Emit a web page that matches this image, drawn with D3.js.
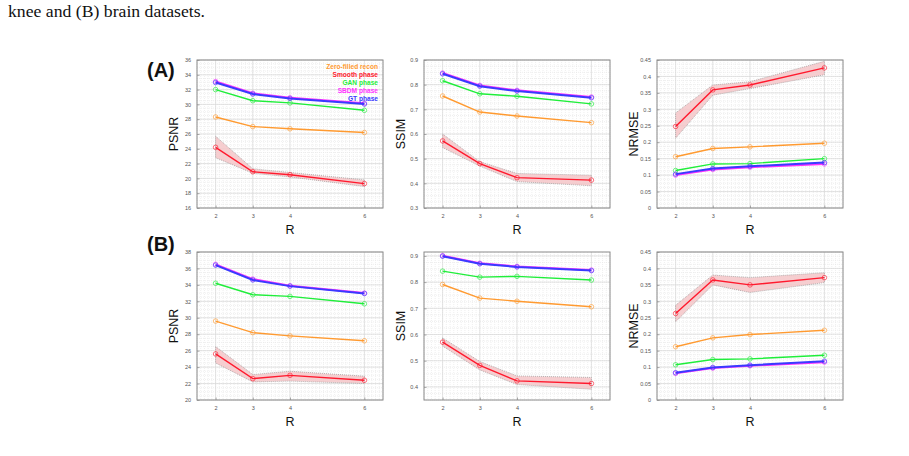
<!DOCTYPE html>
<html lang="en">
<head>
<meta charset="UTF-8">
<title>Metrics vs R</title>
<script src="https://d3js.org/d3.v7.min.js"></script>
<style>
  html, body { margin: 0; background: #fff; }
  #vis { width: 909px; height: 456px; }
  .caption { font-family: "Liberation Serif", "Times New Roman", serif; font-size: 16px; fill: #111; }
  .tick text { font-family: "Liberation Sans", Arial, sans-serif; font-size: 5.5px; fill: #555; }
  .lbl { font-family: "Liberation Sans", Arial, sans-serif; font-size: 12.5px; fill: #111; }
  .panel { font-family: "Liberation Sans", Arial, sans-serif; font-size: 20px; font-weight: bold; fill: #111; }
  .leg { font-family: "Liberation Sans", Arial, sans-serif; font-size: 6.6px; font-weight: bold; }
</style>
</head>
<body>
<div id="vis"></div>
<script>
// acceleration factors
var R = [2, 3, 4, 6];

var seriesNames = ['Zero-filled recon', 'Smooth phase', 'GAN phase', 'SBDM phase', 'GT phase'];
var seriesColors = ['#ff9a30', '#ff1a2e', '#1fee3a', '#ff33ff', '#3a3aff'];

// (A) knee: [zero-filled, smooth, gan, sbdm, gt]
var kneePSNR = [
  [28.3, 27.0, 26.7, 26.2],
  [24.2, 20.9, 20.5, 19.3],
  [32.0, 30.5, 30.2, 29.2],
  [33.1, 31.5, 30.9, 30.15],
  [32.95, 31.4, 30.8, 30.05]
];
var kneePSNRband = [[22.8, 20.7, 20.2, 18.9], [25.7, 21.3, 20.8, 19.8]];

var kneeSSIM = [
  [0.754, 0.689, 0.673, 0.646],
  [0.572, 0.480, 0.423, 0.413],
  [0.816, 0.763, 0.753, 0.722],
  [0.847, 0.797, 0.777, 0.750],
  [0.844, 0.794, 0.774, 0.747]
];
var kneeSSIMband = [[0.545, 0.470, 0.407, 0.390], [0.600, 0.488, 0.440, 0.433]];

var kneeNRMSE = [
  [0.156, 0.181, 0.186, 0.197],
  [0.248, 0.359, 0.374, 0.426],
  [0.114, 0.134, 0.135, 0.150],
  [0.100, 0.117, 0.124, 0.134],
  [0.103, 0.120, 0.127, 0.138]
];
var kneeNRMSEband = [[0.212, 0.343, 0.363, 0.405], [0.289, 0.374, 0.384, 0.446]];

// (B) brain
var brainPSNR = [
  [29.6, 28.2, 27.8, 27.2],
  [25.6, 22.6, 23.0, 22.4],
  [34.2, 32.8, 32.6, 31.7],
  [36.5, 34.7, 33.9, 33.0],
  [36.4, 34.6, 33.85, 32.95]
];
var brainPSNRband = [[24.5, 22.2, 22.3, 22.0], [26.5, 23.1, 23.5, 22.9]];

var brainSSIM = [
  [0.791, 0.739, 0.727, 0.706],
  [0.571, 0.482, 0.423, 0.413],
  [0.842, 0.819, 0.822, 0.808],
  [0.901, 0.872, 0.860, 0.846],
  [0.899, 0.870, 0.858, 0.844]
];
var brainSSIMband = [[0.556, 0.465, 0.409, 0.391], [0.587, 0.497, 0.442, 0.436]];

var brainNRMSE = [
  [0.162, 0.189, 0.199, 0.212],
  [0.263, 0.365, 0.350, 0.372],
  [0.107, 0.123, 0.125, 0.136],
  [0.081, 0.097, 0.104, 0.115],
  [0.083, 0.099, 0.106, 0.118]
];
var brainNRMSEband = [[0.238, 0.350, 0.327, 0.357], [0.288, 0.380, 0.372, 0.387]];

var W = 909, H = 456;
var svg = d3.select('#vis').append('svg').attr('width', W).attr('height', H);

svg.append('text').attr('class', 'caption').attr('x', 8).attr('y', 17)
  .attr('textLength', 197).attr('lengthAdjust', 'spacingAndGlyphs')
  .text('knee and (B) brain datasets.');

var colX = [197, 424, 657];
var rowY = [60, 252];
var boxW = 186, boxH = 148;

var panels = [
  {row: 0, col: 0, label: 'PSNR', data: kneePSNR, band: kneePSNRband, ydom: [16, 36], ticks: d3.range(16, 36.1, 2), minor: 0.5, legend: true},
  {row: 0, col: 1, label: 'SSIM', data: kneeSSIM, band: kneeSSIMband, ydom: [0.3, 0.9], ticks: d3.range(0.3, 0.91, 0.1), minor: 0.025},
  {row: 0, col: 2, label: 'NRMSE', data: kneeNRMSE, band: kneeNRMSEband, ydom: [0, 0.45], ticks: d3.range(0, 0.451, 0.05), minor: 0.0125},
  {row: 1, col: 0, label: 'PSNR', data: brainPSNR, band: brainPSNRband, ydom: [20, 38], ticks: d3.range(20, 38.1, 2), minor: 0.5},
  {row: 1, col: 1, label: 'SSIM', data: brainSSIM, band: brainSSIMband, ydom: [0.35, 0.915], ticks: d3.range(0.4, 0.91, 0.1), minor: 0.025},
  {row: 1, col: 2, label: 'NRMSE', data: brainNRMSE, band: brainNRMSEband, ydom: [0, 0.45], ticks: d3.range(0, 0.451, 0.05), minor: 0.0125}
];

var fmt = function(d) { return +d.toFixed(2) + ''; };

panels.forEach(function(p) {
  var g = svg.append('g')
    .attr('transform', 'translate(' + colX[p.col] + ',' + rowY[p.row] + ')');

  var x = d3.scaleLinear().domain([1.5, 6.5]).range([0, boxW]);
  var y = d3.scaleLinear().domain(p.ydom).range([boxH, 0]);

  // minor grid
  var minorY = d3.range(Math.ceil(p.ydom[0] / p.minor) * p.minor, p.ydom[1] + 1e-9, p.minor);
  var minorX = d3.range(1.5, 6.5001, 0.1);
  g.append('g').selectAll('line.my').data(minorY).enter().append('line')
    .attr('x1', 0).attr('x2', boxW)
    .attr('y1', function(d) { return y(d); }).attr('y2', function(d) { return y(d); })
    .attr('stroke', '#e4e4e4').attr('stroke-width', 0.6).attr('stroke-dasharray', '1,1');
  g.append('g').selectAll('line.mx').data(minorX).enter().append('line')
    .attr('y1', 0).attr('y2', boxH)
    .attr('x1', function(d) { return x(d); }).attr('x2', function(d) { return x(d); })
    .attr('stroke', '#e4e4e4').attr('stroke-width', 0.6).attr('stroke-dasharray', '1,1');

  // major grid
  g.append('g').selectAll('line').data(p.ticks).enter().append('line')
    .attr('x1', 0).attr('x2', boxW)
    .attr('y1', function(d) { return y(d); }).attr('y2', function(d) { return y(d); })
    .attr('stroke', '#d8d8d8').attr('stroke-width', 0.7);
  g.append('g').selectAll('line').data(R).enter().append('line')
    .attr('y1', 0).attr('y2', boxH)
    .attr('x1', function(d) { return x(d); }).attr('x2', function(d) { return x(d); })
    .attr('stroke', '#d8d8d8').attr('stroke-width', 0.7);

  // confidence band for smooth phase
  var area = d3.area()
    .x(function(d, i) { return x(R[i]); })
    .y0(function(d, i) { return y(p.band[0][i]); })
    .y1(function(d, i) { return y(p.band[1][i]); });
  g.append('path').datum(R).attr('d', area)
    .attr('fill', '#f4c6c8').attr('fill-opacity', 0.85)
    .attr('stroke', '#8a8a8a').attr('stroke-width', 0.6).attr('stroke-dasharray', '1,1');

  var line = d3.line()
    .x(function(d, i) { return x(R[i]); })
    .y(function(d) { return y(d); });

  p.data.forEach(function(vals, si) {
    var thick = si >= 3;
    g.append('path').datum(vals).attr('d', line)
      .attr('fill', 'none').attr('stroke', seriesColors[si])
      .attr('stroke-width', thick ? 2 : 1.4);
    g.append('g').selectAll('circle').data(vals).enter().append('circle')
      .attr('cx', function(d, i) { return x(R[i]); })
      .attr('cy', function(d) { return y(d); })
      .attr('r', 2.3)
      .attr('fill', 'none')
      .attr('stroke', seriesColors[si]).attr('stroke-opacity', 0.7)
      .attr('stroke-width', 0.9);
  });

  // axes with inward ticks
  var yAxis = d3.axisLeft(y).tickValues(p.ticks).tickSize(-2.5).tickPadding(6).tickFormat(fmt);
  var xAxis = d3.axisBottom(x).tickValues(R).tickSize(-2.5).tickPadding(6).tickFormat(d3.format('d'));
  var ya = g.append('g').call(yAxis);
  var xa = g.append('g').attr('transform', 'translate(0,' + boxH + ')').call(xAxis);
  [ya, xa].forEach(function(a) {
    a.select('.domain').remove();
    a.selectAll('.tick line').attr('stroke', '#777').attr('stroke-width', 0.6);
  });

  // box
  g.append('rect').attr('width', boxW).attr('height', boxH)
    .attr('fill', 'none').attr('stroke', '#8a8a8a').attr('stroke-width', 1);

  // labels
  g.append('text').attr('class', 'lbl')
    .attr('transform', 'translate(' + (-19) + ',' + (boxH / 2) + ') rotate(-90)')
    .attr('text-anchor', 'middle').text(p.label);
  g.append('text').attr('class', 'lbl')
    .attr('x', boxW / 2).attr('y', boxH + 26)
    .attr('text-anchor', 'middle').text('R');

  if (p.legend) {
    var leg = g.append('g');
    seriesNames.forEach(function(name, si) {
      leg.append('text').attr('class', 'leg')
        .attr('x', boxW - 5).attr('y', 8.5 + si * 8.2)
        .attr('text-anchor', 'end').attr('fill', seriesColors[si])
        .text(name);
    });
  }
});

svg.append('text').attr('class', 'panel').attr('x', 147).attr('y', 77).text('(A)');
svg.append('text').attr('class', 'panel').attr('x', 147).attr('y', 251).text('(B)');
</script>
</body>
</html>
